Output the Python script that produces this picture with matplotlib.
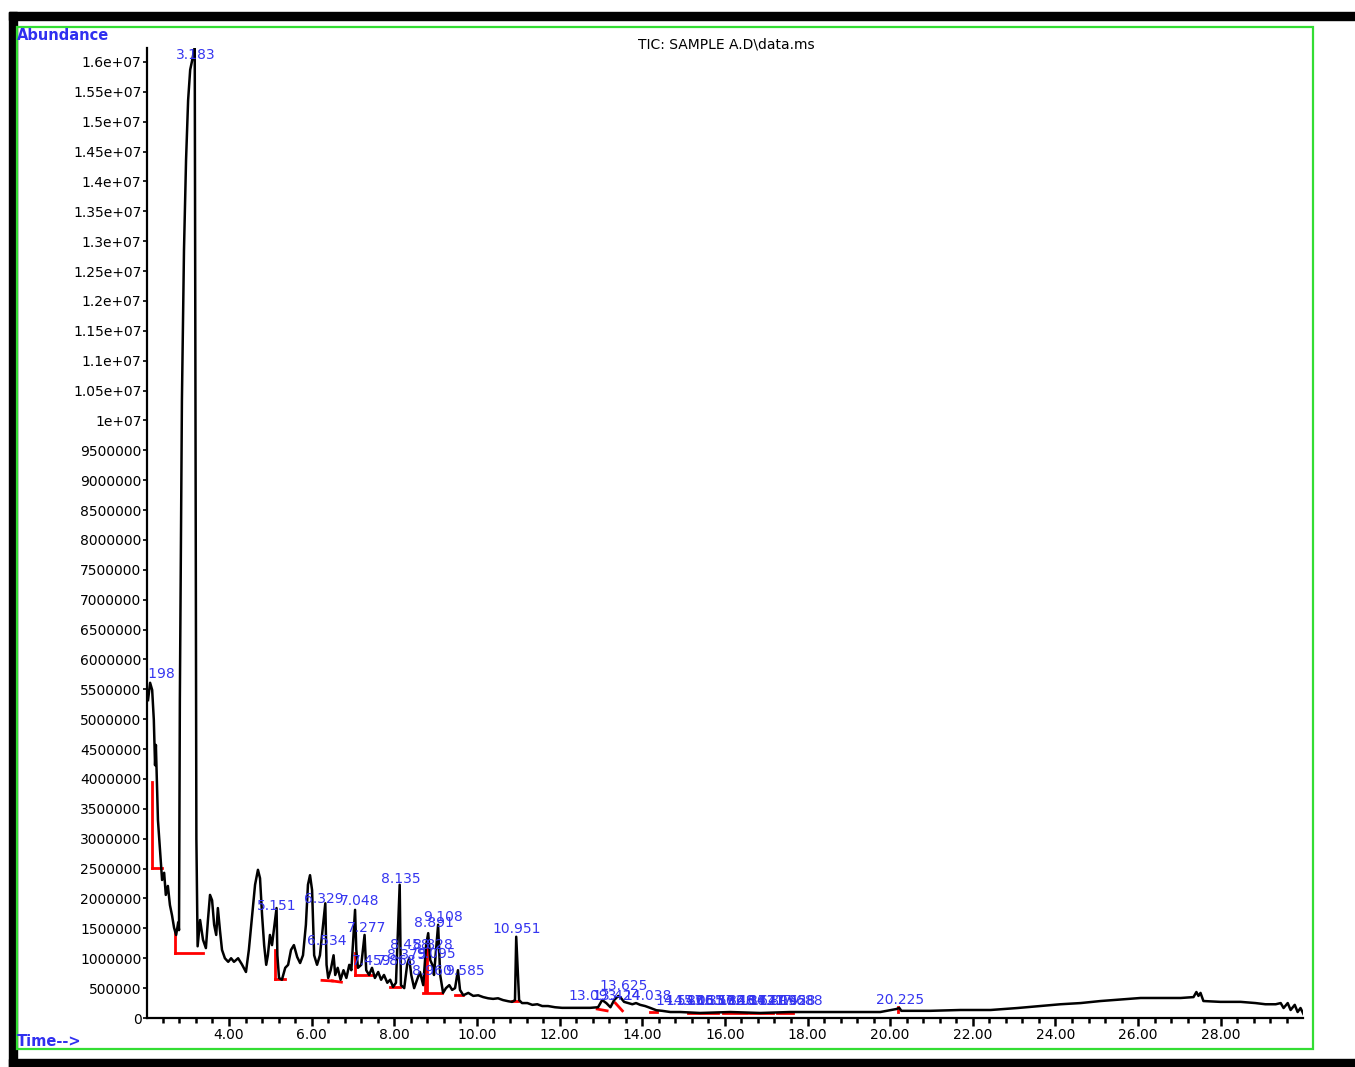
import matplotlib
matplotlib.use("Agg")
import matplotlib.pyplot as plt
from matplotlib.patches import Rectangle
from matplotlib.ticker import MultipleLocator, FixedLocator

# TIC trace (retention time in min, abundance)
rt = [2.04, 2.09, 2.14, 2.18, 2.21, 2.23, 2.28, 2.33, 2.38, 2.43, 2.47, 2.52, 2.57,
      2.62, 2.67, 2.72, 2.77, 2.79, 2.81, 2.84, 2.86, 2.91, 2.96, 3.01, 3.06, 3.10,
      3.17, 3.19, 3.21, 3.24, 3.30, 3.37, 3.44, 3.49, 3.54, 3.59, 3.64, 3.69, 3.73,
      3.78, 3.83, 3.90, 3.98, 4.05, 4.12, 4.22, 4.31, 4.41, 4.48, 4.56, 4.63, 4.70,
      4.75, 4.80, 4.85, 4.90, 4.94, 4.99, 5.04, 5.15, 5.17, 5.21, 5.28, 5.36, 5.43,
      5.50, 5.57, 5.65, 5.72, 5.79, 5.86, 5.91, 5.96, 6.01, 6.06, 6.13, 6.20, 6.33,
      6.36, 6.40, 6.46, 6.53, 6.57, 6.63, 6.70, 6.77, 6.84, 6.91, 6.96, 7.05, 7.08,
      7.12, 7.20, 7.28, 7.32, 7.39, 7.46, 7.53, 7.61, 7.68, 7.75, 7.83, 7.90, 7.97,
      8.04, 8.13, 8.16, 8.24, 8.31, 8.36, 8.41, 8.48, 8.55, 8.62, 8.70, 8.77, 8.82,
      8.87, 8.92, 8.96, 9.01, 9.06, 9.11, 9.18, 9.25, 9.33, 9.40, 9.47, 9.54, 9.59,
      9.67, 9.79, 9.91, 10.03, 10.15, 10.27, 10.39, 10.51, 10.63, 10.76, 10.85,
      10.92, 10.95, 11.02, 11.09, 11.22, 11.34, 11.46, 11.58, 11.72, 11.89, 12.06,
      12.26, 12.50, 12.74, 12.93, 13.03, 13.13, 13.23, 13.32, 13.42, 13.49, 13.56,
      13.66, 13.76, 13.85, 13.95, 14.07, 14.19, 14.34, 14.48, 14.68, 14.92, 15.40,
      16.13, 16.86, 17.58, 18.31, 19.04, 19.76, 20.15, 20.22, 20.27, 20.97, 21.70,
      22.43, 23.08, 23.64, 24.12, 24.61, 25.09, 25.57, 26.06, 26.54, 27.03, 27.34,
      27.41, 27.46, 27.51, 27.58, 27.99, 28.48, 28.84, 29.08, 29.33, 29.45, 29.52,
      29.62, 29.69, 29.79, 29.86, 29.93, 30.0]
abund = [5.32e6, 5.61e6, 5.49e6, 4.99e6, 4.23e6, 4.57e6, 3.31e6, 2.81e6, 2.31e6, 2.43e6,
         2.06e6, 2.21e6, 1.89e6, 1.72e6, 1.51e6, 1.39e6, 1.60e6, 1.47e6, 5.32e6, 8.33e6,
         1.034e7, 1.285e7, 1.436e7, 1.536e7, 1.587e7, 1.60e7, 1.625e7, 1.0e7, 3.0e6,
         1.2e6, 1.64e6, 1.31e6, 1.17e6, 1.64e6, 2.06e6, 1.97e6, 1.56e6, 1.39e6, 1.84e6,
         1.47e6, 1.14e6, 1.0e6, 9.4e5, 1.0e6, 9.4e5, 1.0e6, 9.0e5, 7.7e5, 1.14e6, 1.72e6,
         2.23e6, 2.48e6, 2.34e6, 1.72e6, 1.22e6, 8.9e5, 1.05e6, 1.39e6, 1.22e6, 1.84e6,
         1.05e6, 6.7e5, 6.4e5, 8.4e5, 8.9e5, 1.14e6, 1.22e6, 1.02e6, 9.2e5, 1.05e6,
         1.56e6, 2.23e6, 2.39e6, 2.14e6, 1.05e6, 8.9e5, 1.05e6, 1.92e6, 8.9e5, 6.7e5,
         8.0e5, 1.05e6, 7.2e5, 8.4e5, 6.4e5, 8.0e5, 6.7e5, 8.9e5, 8.0e5, 1.81e6, 1.14e6,
         8.4e5, 8.9e5, 1.39e6, 8.0e5, 7.2e5, 8.4e5, 6.7e5, 7.7e5, 6.4e5, 7.2e5, 5.9e5,
         6.4e5, 5.2e5, 5.9e5, 2.23e6, 5.5e5, 5.0e5, 8.9e5, 1.0e6, 7.2e5, 5.0e5, 6.4e5,
         7.7e5, 5.5e5, 1.22e6, 1.42e6, 9.7e5, 8.9e5, 7.2e5, 1.14e6, 1.56e6, 7.2e5, 4.2e5,
         5.0e5, 5.5e5, 4.7e5, 5.0e5, 8.0e5, 4.7e5, 3.8e5, 4.2e5, 3.7e5, 3.8e5, 3.5e5,
         3.3e5, 3.2e5, 3.3e5, 3.0e5, 2.8e5, 2.7e5, 3.0e5, 1.36e6, 3.0e5, 2.5e5, 2.5e5,
         2.2e5, 2.3e5, 2.0e5, 2.0e5, 1.8e5, 1.7e5, 1.7e5, 1.7e5, 1.7e5, 1.8e5, 3.0e5,
         2.5e5, 1.8e5, 3.0e5, 3.7e5, 3.3e5, 2.7e5, 2.5e5, 2.3e5, 2.5e5, 2.2e5, 2.0e5,
         1.7e5, 1.3e5, 1.2e5, 1.0e5, 1.0e5, 8.4e4, 1.0e5, 8.4e4, 1.0e5, 1.0e5, 1.0e5,
         1.0e5, 1.5e5, 1.7e5, 1.2e5, 1.2e5, 1.34e5, 1.34e5, 1.67e5, 2.0e5, 2.3e5, 2.5e5,
         2.84e5, 3.1e5, 3.35e5, 3.35e5, 3.35e5, 3.5e5, 4.35e5, 3.7e5, 4.2e5, 2.84e5,
         2.7e5, 2.7e5, 2.5e5, 2.3e5, 2.3e5, 2.5e5, 1.67e5, 2.5e5, 1.34e5, 2.2e5, 1.0e5,
         1.67e5, 6.7e4]

# integration baselines / drop lines (red)
bl_t0 = [2.14, 2.14, 2.69, 2.69, 5.11, 5.11, 6.25, 6.50, 7.05, 7.05, 7.90, 8.75, 8.80,
         8.70, 9.47, 10.85, 12.91, 13.35, 14.19, 15.11, 15.96, 16.61, 17.27, 20.20]
bl_a0 = [3.95e6, 2.51e6, 1.44e6, 1.09e6, 1.14e6, 6.5e5, 6.3e5, 6.2e5, 1.09e6, 7.2e5,
         5.2e5, 1.1e6, 1.2e6, 4.2e5, 3.85e5, 2.8e5, 1.5e5, 2.5e5, 1.0e5, 8.4e4, 8.4e4,
         8.4e4, 8.4e4, 1.84e5]
bl_t1 = [2.14, 2.38, 2.69, 3.37, 5.11, 5.36, 6.50, 6.72, 7.05, 7.49, 8.14, 8.75, 8.80,
         9.15, 9.67, 11.00, 13.15, 13.52, 14.36, 15.84, 16.54, 17.17, 17.66, 20.20]
bl_a1 = [2.51e6, 2.51e6, 1.09e6, 1.09e6, 6.5e5, 6.5e5, 6.2e5, 6.0e5, 7.2e5, 7.2e5,
         5.2e5, 4.5e5, 4.5e5, 4.2e5, 3.85e5, 2.8e5, 1.2e5, 1.2e5, 1.0e5, 8.4e4, 8.4e4,
         8.4e4, 8.4e4, 1.0e5]

# peak labels: text, centre time, bottom abundance
lab_txt = ["2.198", "3.183", "5.151", "6.329", "6.534", "7.048", "7.277", "7.459",
           "7.868", "8.135", "8.458", "8.828", "8.375", "9.095", "8.891", "9.108",
           "8.960", "9.585", "10.951", "13.625", "13.093", "13.424", "14.038",
           "14.547", "14.806", "15.061", "15.337", "15.592", "15.848", "16.104",
           "16.372", "16.641", "16.899", "17.165", "17.428", "17.688", "20.225"]
lab_t = [2.20, 3.20, 5.16, 6.30, 6.37, 7.17, 7.32, 7.45, 8.07, 8.16, 8.38, 8.93,
         8.30, 9.00, 8.96, 9.18, 8.92, 9.71, 10.97, 13.54, 12.79, 13.39, 14.12,
         14.90, 15.15, 15.40, 15.65, 15.90, 16.15, 16.40, 16.65, 16.90, 17.15,
         17.40, 17.62, 17.78, 20.25]
lab_a = [5.64e6, 1.60e7, 1.76e6, 1.87e6, 1.17e6, 1.84e6, 1.39e6, 8.4e5, 8.4e5,
         2.21e6, 1.10e6, 1.10e6, 9.4e5, 9.6e5, 1.47e6, 1.57e6, 6.7e5, 6.7e5,
         1.37e6, 4.2e5, 2.5e5, 2.5e5, 2.5e5, 1.7e5, 1.7e5, 1.7e5, 1.7e5, 1.7e5,
         1.7e5, 1.7e5, 1.7e5, 1.7e5, 1.7e5, 1.7e5, 1.7e5, 1.7e5, 1.84e5]

x_ticks = [4, 6, 8, 10, 12, 14, 16, 18, 20, 22, 24, 26, 28]
y_ticks = [0, 5e5, 1e6, 1.5e6, 2e6, 2.5e6, 3e6, 3.5e6, 4e6, 4.5e6, 5e6, 5.5e6, 6e6,
           6.5e6, 7e6, 7.5e6, 8e6, 8.5e6, 9e6, 9.5e6, 1e7, 1.05e7, 1.1e7, 1.15e7,
           1.2e7, 1.25e7, 1.3e7, 1.35e7, 1.4e7, 1.45e7, 1.5e7, 1.55e7, 1.6e7]
y_labels = ["0", "500000", "1000000", "1500000", "2000000", "2500000", "3000000",
            "3500000", "4000000", "4500000", "5000000", "5500000", "6000000",
            "6500000", "7000000", "7500000", "8000000", "8500000", "9000000",
            "9500000", "1e+07", "1.05e+07", "1.1e+07", "1.15e+07", "1.2e+07",
            "1.25e+07", "1.3e+07", "1.35e+07", "1.4e+07", "1.45e+07", "1.5e+07",
            "1.55e+07", "1.6e+07"]

W, H = 1355, 1067
fig = plt.figure(figsize=(W / 100, H / 100), dpi=100)

# frame decorations
fig.patches.append(Rectangle((9 / W, 1 - 20 / H), 1 - 9 / W, 8 / H, transform=fig.transFigure,
                             color="black", zorder=0))
fig.patches.append(Rectangle((9 / W, 0), 8 / W, 1 - 12 / H, transform=fig.transFigure,
                             color="black", zorder=0))
fig.patches.append(Rectangle((9 / W, 0), 1 - 9 / W, 8 / H, transform=fig.transFigure,
                             color="black", zorder=0))
fig.patches.append(Rectangle((17 / W, 1 - 1049 / H), (1313 - 17) / W, (1049 - 27) / H,
                             transform=fig.transFigure, fill=False, edgecolor="#33dd33",
                             linewidth=1.6, zorder=0))

ax = fig.add_axes([147 / W, 1 - 1018 / H, (1303 - 147) / W, (1018 - 48) / H])
ax.plot(rt, abund, color="black", lw=1.8, zorder=3)
for i in range(len(bl_t0)):
    ax.plot([bl_t0[i], bl_t1[i]], [bl_a0[i], bl_a1[i]], color="#ff0000", lw=2, zorder=2)

for i in range(len(lab_txt)):
    ax.text(lab_t[i], lab_a[i], lab_txt[i], color="#3535f0", fontsize=10,
            ha="center", va="bottom", clip_on=(i == 0), zorder=4)

ax.set_xlim(2.015, 29.99)
ax.set_ylim(0, 1.6234e7)
ax.xaxis.set_major_locator(FixedLocator(x_ticks))
ax.set_xticklabels(["%.2f" % v for v in x_ticks])
ax.xaxis.set_minor_locator(MultipleLocator(0.4))
ax.set_yticks(y_ticks)
ax.set_yticklabels(y_labels)

for s in ["top", "right"]:
    ax.spines[s].set_visible(False)
for s in ["left", "bottom"]:
    ax.spines[s].set_linewidth(1.6)
ax.tick_params(axis="x", which="major", length=6, width=1.8, pad=1, labelsize=10)
ax.tick_params(axis="x", which="minor", length=3.5, width=1.8)
ax.tick_params(axis="y", length=3, width=1.2, pad=1, labelsize=10)

fig.text(17 / W, 1 - 36 / H, "Abundance", color="#3030f0", fontsize=10.5,
         fontweight="bold", ha="left", va="center")
fig.text(17 / W, 1 - 1042 / H, "Time-->", color="#3030f0", fontsize=10.5,
         fontweight="bold", ha="left", va="center")
fig.text(726 / W, 1 - 44 / H, "TIC: SAMPLE A.D\\data.ms", color="black", fontsize=10,
         ha="center", va="center")

fig.savefig("out.png", dpi=100)
